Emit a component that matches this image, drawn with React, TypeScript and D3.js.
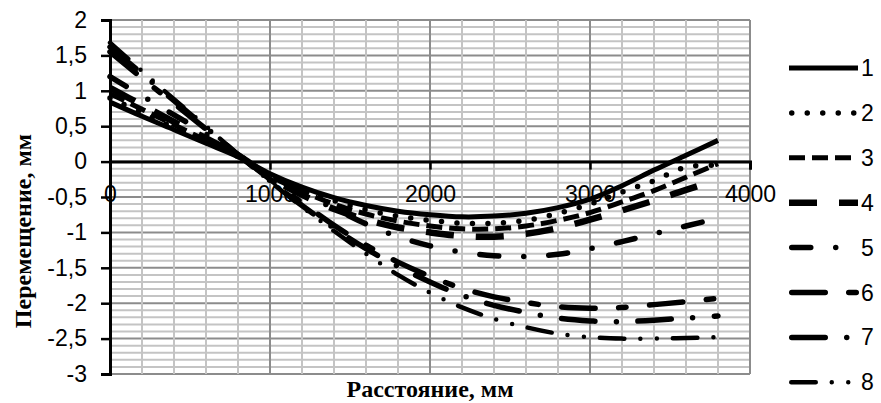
import React, { useEffect, useRef } from 'react';
import * as d3 from 'd3';

// distance along the element, mm
const distances = [0, 200, 400, 600, 800, 1000, 1200, 1400, 1600, 1800, 2000, 2200, 2400, 2600, 2800, 3000, 3200, 3400, 3600, 3800];

// displacement, mm
const series1 = [0.84, 0.64, 0.45, 0.26, 0.07, -0.17, -0.36, -0.51, -0.62, -0.7, -0.75, -0.78, -0.77, -0.73, -0.65, -0.53, -0.34, -0.12, 0.09, 0.3];
const series2 = [0.9, 0.69, 0.48, 0.28, 0.07, -0.19, -0.39, -0.55, -0.68, -0.77, -0.83, -0.87, -0.87, -0.83, -0.73, -0.6, -0.43, -0.27, -0.08, -0.05];
const series3 = [0.96, 0.74, 0.52, 0.3, 0.08, -0.2, -0.42, -0.6, -0.74, -0.84, -0.91, -0.95, -0.95, -0.91, -0.83, -0.72, -0.57, -0.41, -0.22, -0.03];
const series4 = [1.04, 0.8, 0.56, 0.33, 0.09, -0.22, -0.47, -0.67, -0.82, -0.93, -1.0, -1.05, -1.06, -1.02, -0.94, -0.82, -0.69, -0.55, -0.4, -0.26];
const series5 = [1.2, 0.93, 0.66, 0.39, 0.1, -0.2, -0.44, -0.66, -0.88, -1.06, -1.19, -1.28, -1.33, -1.34, -1.31, -1.23, -1.13, -1.02, -0.91, -0.8];
const series6 = [1.55, 1.18, 0.82, 0.46, 0.1, -0.25, -0.58, -0.9, -1.18, -1.42, -1.62, -1.79, -1.91, -1.99, -2.05, -2.07, -2.06, -2.02, -1.98, -1.93];
const series7 = [1.62, 1.24, 0.86, 0.48, 0.1, -0.27, -0.62, -0.94, -1.23, -1.48, -1.7, -1.89, -2.03, -2.13, -2.21, -2.25, -2.26, -2.24, -2.21, -2.18];
const series8 = [1.68, 1.28, 0.88, 0.5, 0.1, -0.28, -0.64, -0.98, -1.3, -1.6, -1.85, -2.06, -2.22, -2.34, -2.43, -2.48, -2.5, -2.5, -2.49, -2.48];

const seriesNames = ['1', '2', '3', '4', '5', '6', '7', '8'];
const xTicks = [0, 1000, 2000, 3000, 4000];
const yTicks = [2, 1.5, 1, 0.5, 0, -0.5, -1, -1.5, -2, -2.5, -3];

const W = 881;
const H = 403;

// line look per series: width, dash pattern, cap
const styles = [
  { w: 5, dash: null, cap: 'butt' },
  { w: 5.5, dash: '0 15.5', cap: 'round' },
  { w: 5, dash: '16 7', cap: 'butt' },
  { w: 6.5, dash: '28 22', cap: 'butt' },
  { w: 5.5, dash: '19 25 0 25', cap: 'round' },
  { w: 5.5, dash: '33.5 23.5 7.5 23.5', cap: 'round' },
  { w: 5.5, dash: '33.5 21.5 0 21.5', cap: 'round' },
  { w: 4.5, dash: '24.5 16 0 16.5 0 16', cap: 'round' },
];

const App = () => {
  const svgRef = useRef(null);

  useEffect(() => {
    const svg = d3.select(svgRef.current);
    svg.selectAll('*').remove();

    const allSeries = [series1, series2, series3, series4, series5, series6, series7, series8];

    const xScale = d3.scaleLinear().domain([0, 4000]).range([110, 750]);
    const yScale = d3.scaleLinear().domain([-3, 2]).range([374, 20]);

    const tickFont = '"Liberation Sans", Arial, sans-serif';
    const titleFont = '"Liberation Serif", "Times New Roman", serif';

    // grid
    const grid = svg.append('g');
    const minorX = d3.range(0, 4001, 200);
    const minorY = d3.range(-30, 21, 1).map((d) => d / 10);
    grid.selectAll('.gy')
      .data(minorY)
      .join('line')
      .attr('x1', xScale(0))
      .attr('x2', xScale(4000))
      .attr('y1', (d) => yScale(d))
      .attr('y2', (d) => yScale(d))
      .attr('stroke', (d) => (Math.abs(d * 2 - Math.round(d * 2)) < 1e-6 ? '#8c8c8c' : '#c4c4c4'))
      .attr('stroke-width', 2);
    grid.selectAll('.gx')
      .data(minorX)
      .join('line')
      .attr('x1', (d) => xScale(d))
      .attr('x2', (d) => xScale(d))
      .attr('y1', yScale(2))
      .attr('y2', yScale(-3))
      .attr('stroke', (d) => (d % 1000 === 0 ? '#8c8c8c' : '#c4c4c4'))
      .attr('stroke-width', 2);

    // axes
    const yAxis = d3.axisLeft(yScale).tickValues(yTicks).tickSize(9).tickPadding(14)
      .tickFormat((d) => String(d).replace('.', ','));
    const gy = svg.append('g').attr('transform', `translate(${xScale(0)},0)`).call(yAxis);
    gy.select('.domain').attr('stroke', '#000').attr('stroke-width', 3);
    gy.selectAll('.tick line').attr('stroke', '#000').attr('stroke-width', 2.5);
    gy.selectAll('.tick text').attr('font-family', tickFont).attr('font-size', 23).attr('fill', '#000');

    const xAxis = d3.axisBottom(xScale).tickValues(xTicks).tickSize(8).tickPadding(16).tickFormat((d) => String(d));
    const gx = svg.append('g').attr('transform', `translate(0,${yScale(0)})`).call(xAxis);
    gx.select('.domain').attr('stroke', '#000').attr('stroke-width', 3);
    gx.selectAll('.tick line').attr('stroke', '#000').attr('stroke-width', 2.5);
    gx.selectAll('.tick text').attr('font-family', tickFont).attr('font-size', 23).attr('fill', '#000');
    gy.select('.domain').raise();

    // series
    const line = d3.line()
      .x((d) => xScale(d[0]))
      .y((d) => yScale(d[1]))
      .curve(d3.curveCatmullRom.alpha(0.5));

    allSeries.forEach((vals, i) => {
      const st = styles[i];
      svg.append('path')
        .datum(distances.map((x, j) => [x, vals[j]]))
        .attr('d', line)
        .attr('fill', 'none')
        .attr('stroke', '#000')
        .attr('stroke-width', st.w)
        .attr('stroke-linecap', st.cap)
        .attr('stroke-linejoin', 'round')
        .attr('stroke-dasharray', st.dash);
    });

    // axis titles
    svg.append('text')
      .attr('transform', 'translate(31,231) rotate(-90)')
      .attr('text-anchor', 'middle')
      .attr('font-family', titleFont)
      .attr('font-weight', 'bold')
      .attr('font-size', 24)
      .text('Перемещение, мм');

    svg.append('text')
      .attr('x', 430)
      .attr('y', 397)
      .attr('text-anchor', 'middle')
      .attr('font-family', titleFont)
      .attr('font-weight', 'bold')
      .attr('font-size', 24)
      .text('Расстояние, мм');

    // legend
    const legend = svg.append('g');
    seriesNames.forEach((name, i) => {
      const st = styles[i];
      const y = 68 + i * 44.9;
      legend.append('line')
        .attr('x1', 789 + (st.cap === 'round' ? st.w / 2 : 0))
        .attr('x2', 858)
        .attr('y1', y)
        .attr('y2', y)
        .attr('stroke', '#000')
        .attr('stroke-width', st.w)
        .attr('stroke-linecap', st.cap)
        .attr('stroke-dasharray', st.dash);
      legend.append('text')
        .attr('x', 861)
        .attr('y', y)
        .attr('dy', '0.35em')
        .attr('font-family', tickFont)
        .attr('font-size', 23)
        .text(name);
    });
  }, []);

  return (
    <svg ref={svgRef} width={W} height={H} style={{ position: 'absolute', left: 0, top: 0, background: '#fff' }} />
  );
};

export default App;
